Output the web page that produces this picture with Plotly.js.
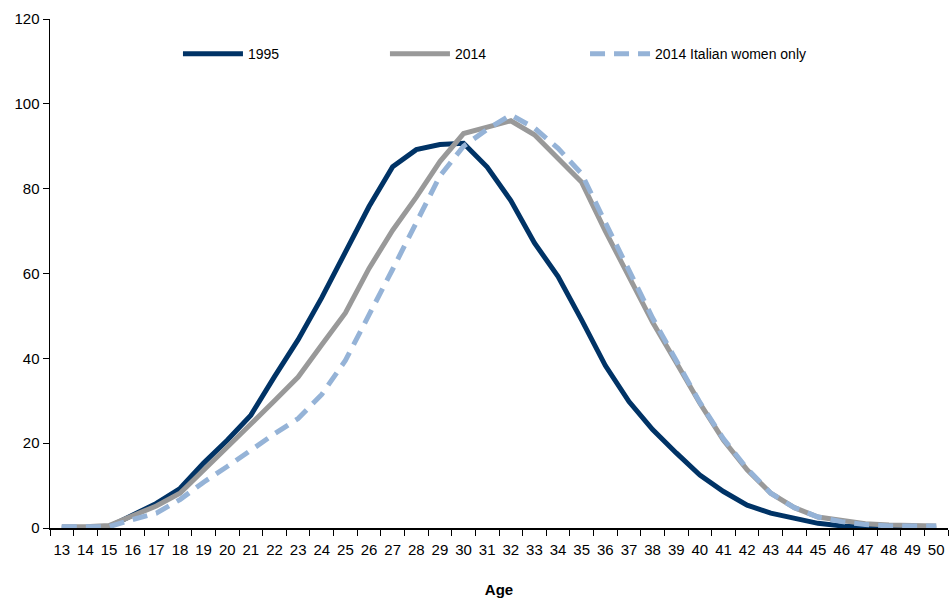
<!DOCTYPE html>
<html><head><meta charset="utf-8">
<script src="https://cdn.plot.ly/plotly-3.0.1.min.js"></script>
<style>html,body{margin:0;padding:0;background:#fff}#chart{width:950px;height:599px}</style>
</head><body><div id="chart"></div>
<script>
const ages = ["13","14","15","16","17","18","19","20","21","22","23","24","25","26","27","28","29","30","31","32","33","34","35","36","37","38","39","40","41","42","43","44","45","46","47","48","49","50"];
const y1995 = [0,0,0.3,3,5.8,9.3,15.3,20.7,26.6,35.7,44.4,54.3,65,75.8,85.2,89.2,90.4,90.7,85.1,77.2,67.2,59.3,49,38.3,29.8,23.2,17.7,12.5,8.6,5.4,3.5,2.3,1.1,0.5,0.2,0,0,0];
const y2014 = [0.3,0.3,0.6,2.8,5.2,8.2,13.5,19,24.5,30,35.6,43.2,50.7,61.2,70.2,78,86.4,93,94.6,96,92.7,87.2,81.5,70,59,48.5,39,29.4,20.7,13.7,8.2,4.8,2.6,1.7,1,0.7,0.6,0.5];
const y2014it = [0.3,0.3,0.3,2,3.5,6.7,10.8,14.5,18.4,22.2,25.8,31.5,39.5,50,61,72,83,90,94,97.4,94.3,89.5,83.5,72,61,49.5,39.5,29.6,21,14,8.2,4.8,2.6,1.5,0.8,0.5,0.5,0.5];
const names = ["1995","2014","2014 Italian women only"];

const font = "'Liberation Sans',Arial,sans-serif";
const traces = [
  {x: ages, y: y1995, name: names[0], legend: 'legend', type: 'scatter', mode: 'lines', line: {color: '#003366', width: 5}},
  {x: ages, y: y2014, name: names[1], legend: 'legend2', type: 'scatter', mode: 'lines', line: {color: '#999999', width: 5}},
  {x: ages, y: y2014it, name: names[2], legend: 'legend3', type: 'scatter', mode: 'lines', line: {color: '#95B3D7', width: 5, dash: '15px,9px'}}
];
function leg(x) {
  return {orientation: 'h', x: x, y: 0.931, xanchor: 'left', yanchor: 'middle', font: {family: font, size: 14, color: '#000'},
    itemwidth: 60, bgcolor: 'rgba(0,0,0,0)'};
}
const layout = {
  width: 950, height: 599,
  margin: {l: 50, r: 2, t: 19, b: 71},
  paper_bgcolor: '#fff', plot_bgcolor: '#fff',
  font: {family: font, size: 15, color: '#000'},
  showlegend: true,
  legend: leg(0.1425),
  legend2: leg(0.373),
  legend3: leg(0.5958),
  xaxis: {type: 'category', range: [-0.5, 37.5], showgrid: false, zeroline: false, showline: true, linecolor: '#000', linewidth: 1.5,
    ticks: 'outside', ticklen: 6, tickcolor: '#000', tickson: 'boundaries', tickangle: 0, ticklabelstandoff: 7, tickfont: {family: font, size: 15},
    title: {text: '<b>Age</b>', font: {family: font, size: 15}, standoff: 28}},
  yaxis: {range: [0, 120], dtick: 20, showgrid: false, zeroline: false, showline: true, linecolor: '#000', linewidth: 1.5,
    ticks: 'outside', ticklen: 6, tickcolor: '#000', tickfont: {family: font, size: 15}}
};
Plotly.newPlot('chart', traces, layout, {displayModeBar: false, staticPlot: true});
</script></body></html>
